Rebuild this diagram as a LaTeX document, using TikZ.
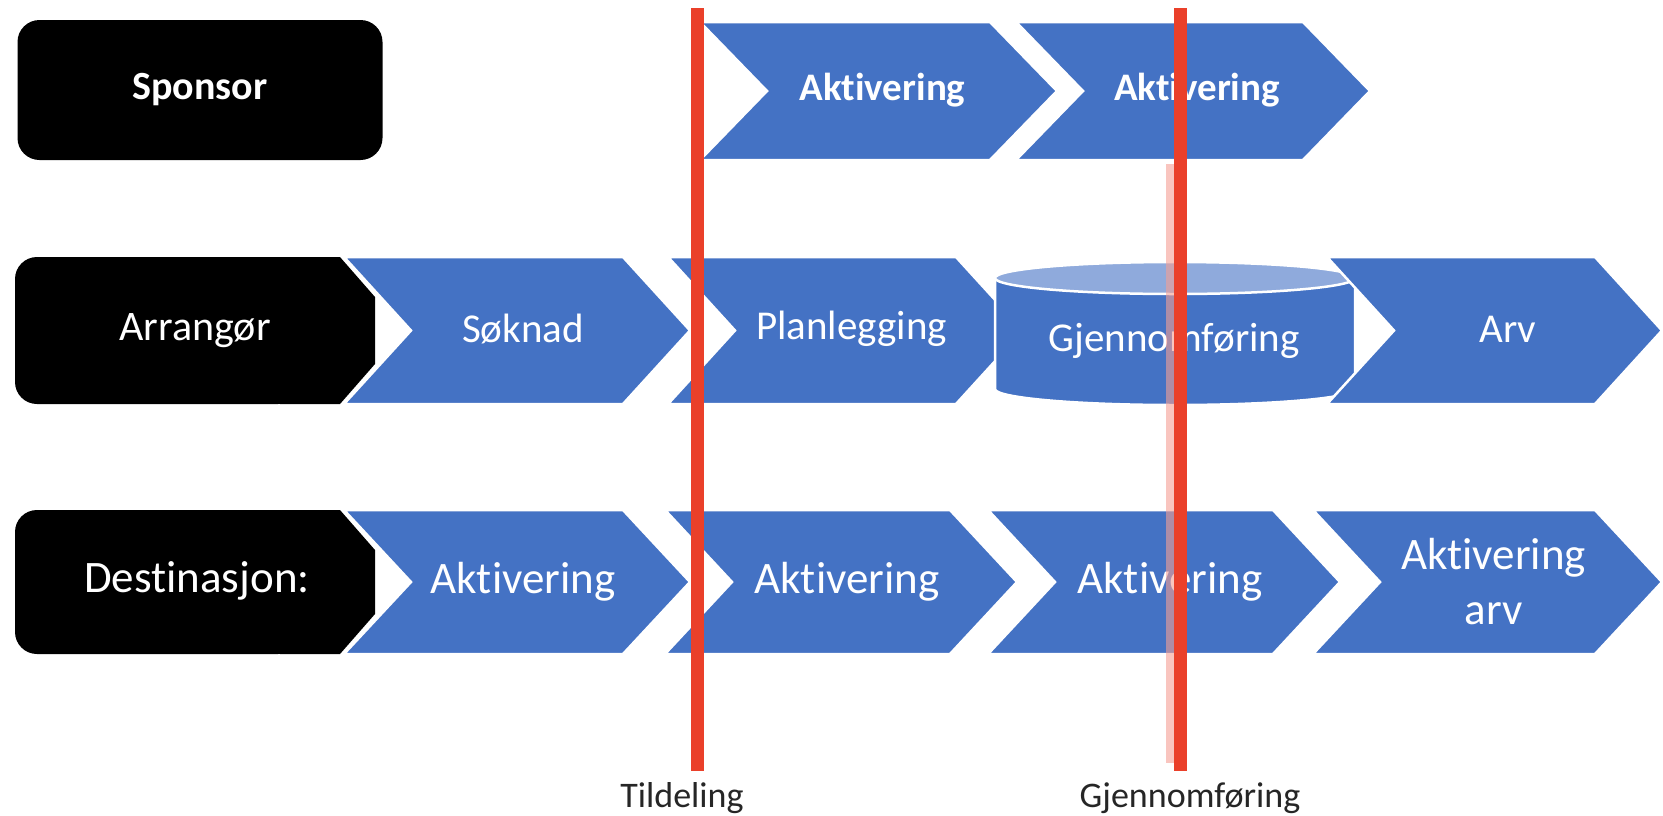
\documentclass[tikz,border=0pt]{standalone}
\usepackage{fontspec}
\setmainfont{Carlito}[Ligatures=NoCommon]
\definecolor{chevblue}{RGB}{68,114,196}
\definecolor{cyltop}{RGB}{143,170,220}
\definecolor{markred}{RGB}{234,64,42}
\newcommand{\chevron}[4]{(#1,#3) -- (#2-67,#3) -- (#2,{(#3+#4)/2}) -- (#2-67,#4) -- (#1,#4) -- (#1+67,{(#3+#4)/2}) -- cycle}

\begin{document}
\begin{tikzpicture}[x=1pt,y=-1pt,
	chev/.style={fill=chevblue, draw=white, line width=2.5pt},
	role/.style={fill=black},
	intext/.style={text=white, align=center, inner sep=0pt},
	milestone/.style={draw=markred, line width=13pt},
	mlabel/.style={text=black!85, font=\fontsize{36}{40}\selectfont, anchor=base}]
	\useasboundingbox (0,0) rectangle (1663,815);

	\node[role, rounded corners=22pt, minimum width=365pt, minimum height=140pt, intext,
		font=\fontsize{40}{44}\selectfont\bfseries] (sponsor) at (200,90) {Sponsor};
	\foreach \xa/\xb/\nm in {700/1057/spa, 1016/1370/spb}
	{
		\filldraw[chev] \chevron{\xa}{\xb}{22}{160};
		\node[intext, font=\fontsize{39}{43}\selectfont\bfseries] (\nm) at ({(\xa+\xb)/2+4},90) {Aktivering};
	}

	\fill[role, rounded corners=22pt] (15,257) rectangle (300,404);
	\fill[role] (280,257) -- (340,257) -- (375,297) -- (375,364) -- (340,404) -- (280,404) -- cycle;
	\node[intext, font=\fontsize{42}{46}\selectfont] (arr) at (195,331) {Arrangør};
	\foreach \xa/\xb/\nm/\txt in {344/690/sok/Søknad, 668/1023/plan/Planlegging}
	{
		\filldraw[chev] \chevron{\xa}{\xb}{257}{404};
		\node[intext, font=\fontsize{41}{45}\selectfont] (\nm) at ({(\xa+\xb)/2+6},329) {\txt};
	}
	\filldraw[chev] (995,278) -- (995,389) arc[start angle=180, end angle=0, x radius=180, y radius=16]
		-- (1355,278) arc[start angle=0, end angle=-180, x radius=180, y radius=16] -- cycle;
	\filldraw[chev, fill=cyltop] (1175,278) ellipse [x radius=180, y radius=16];
	\node[intext, font=\fontsize{41}{45}\selectfont] (gjf) at (1174,341) {Gjennomføring};
	\filldraw[chev] \chevron{1327}{1662}{257}{404};
	\node[intext, font=\fontsize{41}{45}\selectfont] (arv) at (1508,329) {Arv};

	\fill[role, rounded corners=22pt] (15,510) rectangle (300,654);
	\fill[role] (280,510) -- (340,510) -- (375,550) -- (375,614) -- (340,654) -- (280,654) -- cycle;
	\node[intext, font=\fontsize{45}{50}\selectfont] (dest) at (197,581) {Destinasjon:};
	\foreach \xa/\xb/\nm/\txt in {344/690/dea/Aktivering, 665/1017/deb/Aktivering,
		988/1340/dec/Aktivering, 1313/1662/ded/{Aktivering\\arv}}
	{
		\filldraw[chev] \chevron{\xa}{\xb}{510}{654};
		\node[intext, font=\fontsize{45}{55}\selectfont] (\nm) at ({(\xa+\xb)/2+6},582) {\txt};
	}

	\fill[markred!50!white, opacity=0.6] (1166,164) rectangle (1174,763);
	\coordinate (tildtop) at (697,8);
	\coordinate (tildbot) at (697,771);
	\coordinate (gjtop) at (1180,8);
	\coordinate (gjbot) at (1180,771);
	\draw[milestone] (tildtop) -- (tildbot);
	\draw[milestone] (gjtop) -- (gjbot);
	\node[mlabel] (tild) at (682,807) {Tildeling};
	\node[mlabel] (gjlbl) at (1190,807) {Gjennomføring};
\end{tikzpicture}
\end{document}
